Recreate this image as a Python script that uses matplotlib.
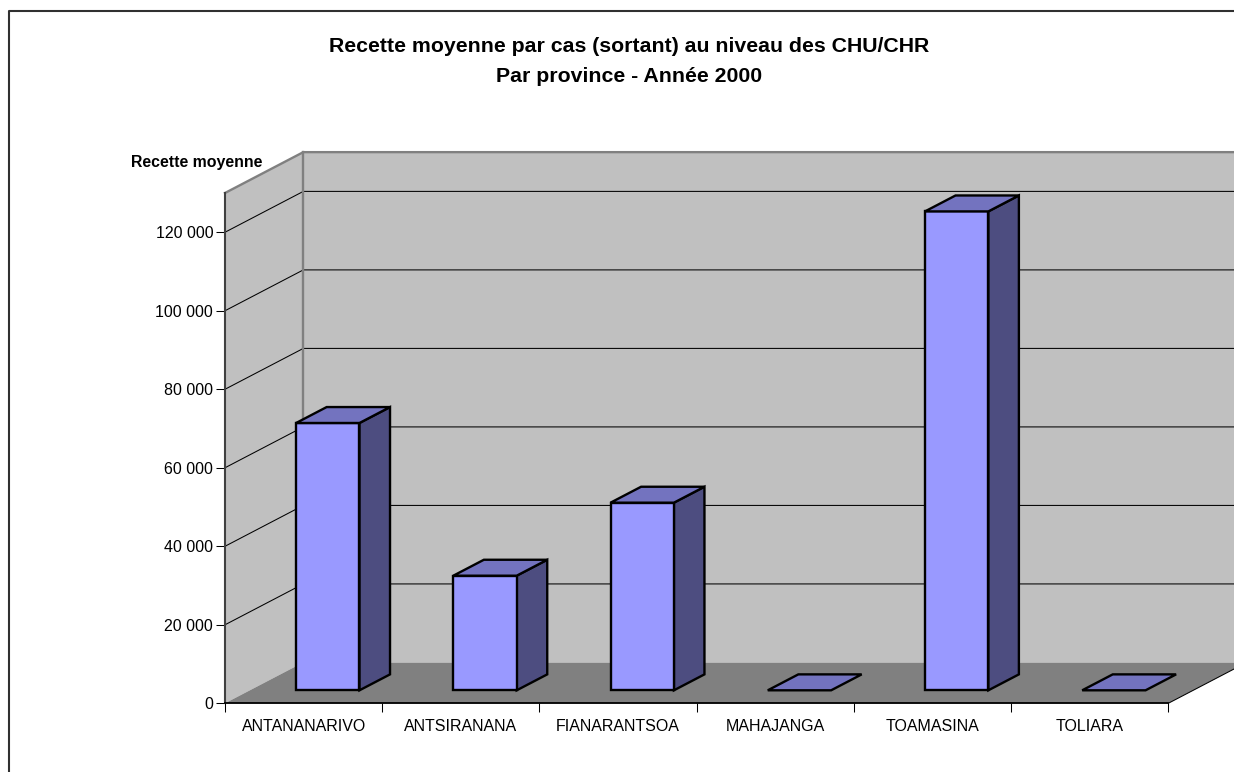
import matplotlib
matplotlib.use("Agg")
import matplotlib.pyplot as plt
from matplotlib.patches import Polygon

plt.rcParams['font.family'] = ['Liberation Sans', 'DejaVu Sans']

provinces = ['ANTANANARIVO', 'ANTSIRANANA', 'FIANARANTSOA', 'MAHAJANGA', 'TOAMASINA', 'TOLIARA']
recette = [68100, 29200, 47800, 0, 122000, 0]
yticks = [0, 20000, 40000, 60000, 80000, 100000, 120000]
ymax = 130000

W, H = 1234, 772
fig = plt.figure(figsize=(W / 100, H / 100), dpi=100)
# front plane of the fake 3d box, in pixels
left, right, bottom, top = 225, 1168.3, 703.3, 193
ax = fig.add_axes([left / W, 1 - bottom / H, (right - left) / W, (bottom - top) / H])
ax.set_xlim(0, 6)
ax.set_ylim(0, ymax)
ax.patch.set_visible(False)

# depth: one unit of depth shifts by this much in data units
dx = 78.3 / 157.2
dy = 40.8 / 78.4 * 20000


def proj(x, y, d):
    return (x + d * dx, y + d * dy)


def face(points, **kw):
    ax.add_patch(Polygon([proj(*p) for p in points], clip_on=False, **kw))


# walls and floor
face([(0, 0, 0), (0, ymax, 0), (0, ymax, 1), (0, 0, 1)], fc='#c0c0c0', ec='none', zorder=1)
face([(0, 0, 1), (0, ymax, 1), (6, ymax, 1), (6, 0, 1)], fc='#c0c0c0', ec='none', zorder=1)
face([(0, 0, 0), (6, 0, 0), (6, 0, 1), (0, 0, 1)], fc='#808080', ec='none', zorder=1.5)

# gridlines, on both walls
for v in yticks[1:]:
    a, b = proj(0, v, 0), proj(0, v, 1)
    c = proj(6, v, 1)
    ax.plot([a[0], b[0], c[0]], [a[1], b[1], c[1]], color='black', lw=0.75, clip_on=False, zorder=2)

# box outline
p0, p1, p2, p3 = proj(0, 0, 1), proj(0, ymax, 1), proj(6, ymax, 1), proj(0, ymax, 0)
ax.plot([p0[0], p1[0]], [p0[1], p1[1]], color='#808080', lw=1.7, clip_on=False, zorder=2)
ax.plot([p3[0], p1[0], p2[0]], [p3[1], p1[1], p2[1]], color='#808080', lw=1.7, clip_on=False, zorder=2)
p4, p5 = proj(6, 0, 0), proj(6, 0, 1)
ax.plot([p4[0], p5[0]], [p4[1], p5[1]], color='black', lw=0.75, clip_on=False, zorder=2)

# bars
bar_w = 0.403
bar_gap = 0.294
d0, d1 = 0.318, 0.708
for i, v in enumerate(recette):
    x0 = i + bar_gap
    x1 = x0 + bar_w
    style = dict(ec='black', lw=1.7, joinstyle='miter', zorder=3)
    if v > 0:
        face([(x1, 0, d0), (x1, v, d0), (x1, v, d1), (x1, 0, d1)], fc='#4d4d80', **style)
        face([(x0, 0, d0), (x1, 0, d0), (x1, v, d0), (x0, v, d0)], fc='#9999ff', **style)
    face([(x0, v, d0), (x1, v, d0), (x1, v, d1), (x0, v, d1)], fc='#7373bf', **style)

for s in ['top', 'right']:
    ax.spines[s].set_visible(False)
ax.spines['left'].set_color('#404040')
ax.spines['left'].set_linewidth(1.5)
ax.spines['bottom'].set_color('black')
ax.spines['bottom'].set_linewidth(1.3)
ax.spines['left'].set_zorder(2.5)
ax.spines['bottom'].set_zorder(2.5)

ax.set_yticks(yticks)
ax.set_yticklabels([f'{v:,}'.replace(',', ' ') for v in yticks], fontsize=11.5)
ax.set_xticks(range(7))
ax.set_xticklabels([''] * 7)
ax.set_xticks([i + 0.5 for i in range(6)], minor=True)
ax.set_xticklabels(provinces, minor=True, fontsize=11.5)
ax.tick_params(axis='x', which='major', length=6.5, width=0.75, color='black')
ax.tick_params(axis='x', which='minor', length=0, pad=11)
ax.tick_params(axis='y', length=6.5, width=0.75, color='black', pad=2)

# chart titles, placed in figure pixels
fig.text(629 / W, 1 - 52 / H, 'Recette moyenne par cas (sortant) au niveau des CHU/CHR',
         ha='center', va='baseline', fontsize=15.3, fontweight='bold')
fig.text(629 / W, 1 - 82 / H, 'Par province - Année 2000',
         ha='center', va='baseline', fontsize=15.3, fontweight='bold')
fig.text(197 / W, 1 - 166.7 / H, 'Recette moyenne', ha='center', va='baseline', fontsize=11.4, fontweight='bold')

# chart border
fig.add_artist(plt.Line2D([9 / W, 9 / W, 1], [0, 1 - 11 / H, 1 - 11 / H], color='#303030', lw=1.5))

fig.savefig('out.png', dpi=100)
